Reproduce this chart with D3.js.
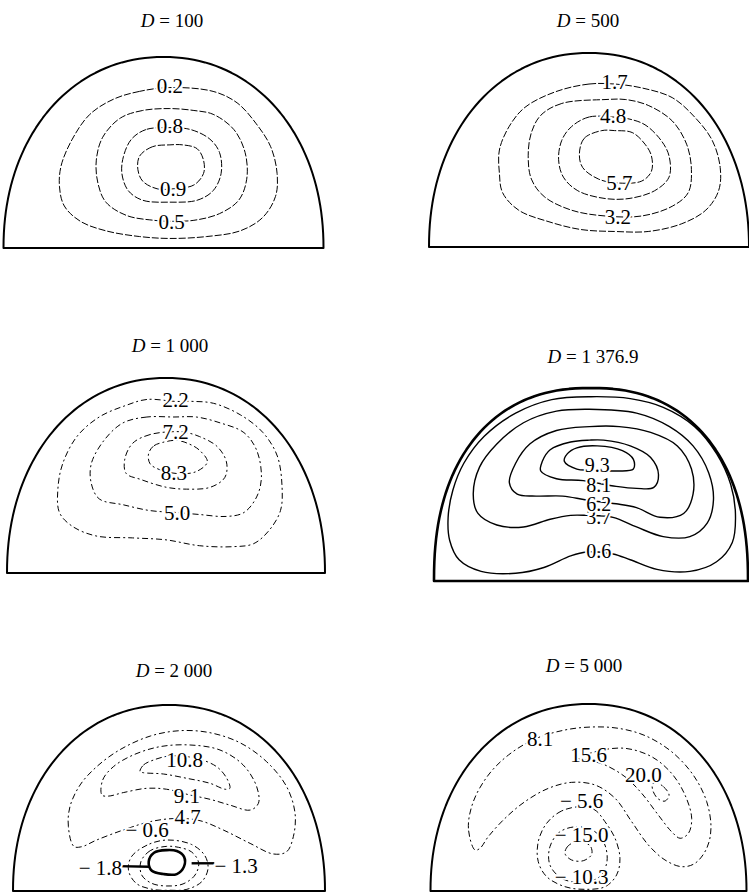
<!DOCTYPE html>
<html>
<head>
<meta charset="utf-8">
<script src="https://cdn.jsdelivr.net/npm/d3@7"></script>
<style>
  body { margin: 0; background: #fff; }
  svg { display: block; }
  text { font-family: "Liberation Serif", "Times New Roman", serif; fill: #000; }
</style>
</head>
<body>
<svg id="chart" width="749" height="892"></svg>
<script>
// D value of each panel
const dValues = ["100", "500", "1 000", "1 376.9", "2 000", "5 000"];

// Isolines. u runs -1..1 across the half-disc, v 0..1 up from the base.
const contours100 = [
  { level: "0.2", at: [0.04, 0.85], pts: [[0.04,0.84],[-0.15,0.82],[-0.31,0.78],[-0.46,0.70],[-0.57,0.57],[-0.64,0.43],[-0.65,0.32],[-0.62,0.22],[-0.52,0.14],[-0.36,0.09],[-0.15,0.06],[0.04,0.05],[0.27,0.06],[0.48,0.09],[0.62,0.16],[0.70,0.27],[0.71,0.39],[0.67,0.53],[0.58,0.65],[0.46,0.76],[0.31,0.82]] },
  { level: "0.5", at: [0.05, 0.14], pts: [[0.04,0.73],[-0.13,0.72],[-0.27,0.68],[-0.38,0.58],[-0.42,0.46],[-0.41,0.34],[-0.36,0.24],[-0.23,0.17],[-0.06,0.145],[0.04,0.14],[0.19,0.145],[0.35,0.18],[0.47,0.25],[0.52,0.36],[0.51,0.50],[0.44,0.62],[0.31,0.70],[0.19,0.72]] },
  { level: "0.8", at: [0.04, 0.64], pts: [[0.03,0.63],[-0.11,0.62],[-0.20,0.57],[-0.25,0.48],[-0.26,0.39],[-0.22,0.30],[-0.13,0.25],[0.04,0.24],[0.21,0.25],[0.31,0.30],[0.36,0.39],[0.35,0.50],[0.29,0.57],[0.17,0.62]] },
  { level: "0.9", at: [0.06, 0.31], pts: [[0.04,0.54],[-0.07,0.53],[-0.15,0.48],[-0.16,0.41],[-0.13,0.35],[-0.04,0.31],[0.06,0.31],[0.19,0.33],[0.25,0.39],[0.25,0.46],[0.21,0.52],[0.12,0.54]] }
];

const contours500 = [
  { level: "1.7", at: [0.16, 0.85], pts: [[0.16,0.84],[0.00,0.84],[-0.21,0.80],[-0.40,0.72],[-0.50,0.62],[-0.56,0.50],[-0.56,0.38],[-0.54,0.28],[-0.44,0.19],[-0.25,0.13],[-0.05,0.09],[0.16,0.08],[0.37,0.08],[0.58,0.12],[0.73,0.19],[0.81,0.29],[0.82,0.41],[0.77,0.55],[0.66,0.67],[0.52,0.77],[0.33,0.82]] },
  { level: "3.2", at: [0.18, 0.155], pts: [[0.10,0.76],[-0.17,0.74],[-0.30,0.68],[-0.36,0.59],[-0.38,0.47],[-0.36,0.35],[-0.28,0.26],[-0.11,0.19],[0.10,0.16],[0.33,0.16],[0.52,0.21],[0.62,0.28],[0.64,0.40],[0.61,0.53],[0.52,0.65],[0.37,0.73],[0.23,0.76]] },
  { level: "4.8", at: [0.15, 0.675], pts: [[0.15,0.67],[0.00,0.67],[-0.11,0.62],[-0.17,0.55],[-0.19,0.45],[-0.16,0.36],[-0.07,0.29],[0.10,0.25],[0.25,0.25],[0.41,0.29],[0.50,0.36],[0.50,0.47],[0.45,0.55],[0.35,0.63],[0.25,0.66]] },
  { level: "5.7", at: [0.19, 0.33], pts: [[0.08,0.60],[-0.03,0.56],[-0.06,0.48],[-0.04,0.41],[0.06,0.35],[0.18,0.33],[0.33,0.34],[0.39,0.39],[0.39,0.47],[0.35,0.53],[0.27,0.59],[0.16,0.60]] }
];

const contours1000 = [
  { level: "2.2", at: [0.06, 0.89], pts: [[0.06,0.88],[-0.12,0.89],[-0.25,0.86],[-0.42,0.80],[-0.56,0.70],[-0.65,0.56],[-0.68,0.43],[-0.67,0.31],[-0.59,0.24],[-0.44,0.19],[-0.21,0.18],[0.00,0.17],[0.21,0.14],[0.42,0.135],[0.55,0.15],[0.65,0.22],[0.72,0.32],[0.73,0.44],[0.70,0.60],[0.61,0.72],[0.47,0.81],[0.30,0.87],[0.17,0.88]] },
  { level: "5.0", at: [0.07, 0.31], pts: [[0.05,0.80],[-0.12,0.80],[-0.27,0.77],[-0.39,0.68],[-0.47,0.56],[-0.47,0.46],[-0.42,0.38],[-0.27,0.35],[-0.10,0.32],[0.07,0.31],[0.21,0.30],[0.38,0.29],[0.49,0.31],[0.57,0.39],[0.60,0.49],[0.57,0.63],[0.49,0.72],[0.34,0.77],[0.19,0.80]] },
  { level: "7.2", at: [0.06, 0.725], pts: [[0.06,0.725],[-0.10,0.71],[-0.21,0.665],[-0.26,0.58],[-0.25,0.51],[-0.16,0.48],[0.00,0.44],[0.13,0.43],[0.28,0.44],[0.37,0.49],[0.38,0.57],[0.32,0.65],[0.21,0.70],[0.13,0.72]] },
  { level: "8.3", at: [0.05, 0.515], pts: [[-0.02,0.67],[-0.08,0.65],[-0.11,0.61],[-0.10,0.56],[-0.04,0.53],[0.07,0.51],[0.19,0.52],[0.26,0.57],[0.21,0.63],[0.15,0.66],[0.07,0.68]] }
];

const contours1377 = [
  { level: "0.6", at: [0.05, 0.157], pts: [[0.00,0.955],[-0.25,0.94],[-0.48,0.87],[-0.68,0.75],[-0.81,0.61],[-0.88,0.47],[-0.91,0.33],[-0.90,0.21],[-0.84,0.11],[-0.70,0.05],[-0.48,0.04],[-0.30,0.07],[-0.13,0.13],[-0.03,0.15],[0.14,0.14],[0.25,0.11],[0.42,0.06],[0.63,0.05],[0.80,0.10],[0.90,0.20],[0.92,0.35],[0.89,0.50],[0.80,0.66],[0.66,0.80],[0.46,0.90],[0.25,0.945]] },
  { level: "3.7", at: [0.05, 0.33], pts: [[-0.01,0.89],[-0.22,0.88],[-0.43,0.82],[-0.60,0.71],[-0.71,0.59],[-0.75,0.45],[-0.72,0.35],[-0.60,0.29],[-0.43,0.28],[-0.26,0.32],[-0.13,0.34],[-0.03,0.34],[0.14,0.33],[0.29,0.28],[0.46,0.23],[0.63,0.23],[0.74,0.30],[0.78,0.42],[0.75,0.56],[0.65,0.70],[0.50,0.80],[0.29,0.87]] },
  { level: "6.2", at: [0.05, 0.40], pts: [[-0.01,0.80],[-0.22,0.78],[-0.39,0.71],[-0.48,0.61],[-0.52,0.51],[-0.47,0.45],[-0.35,0.44],[-0.18,0.44],[-0.03,0.42],[0.16,0.40],[0.29,0.38],[0.44,0.33],[0.59,0.35],[0.65,0.45],[0.64,0.58],[0.55,0.70],[0.38,0.77],[0.18,0.80]] },
  { level: "8.1", at: [0.05, 0.50], pts: [[-0.01,0.73],[-0.13,0.72],[-0.26,0.68],[-0.31,0.62],[-0.32,0.57],[-0.22,0.53],[-0.05,0.52],[0.16,0.49],[0.29,0.48],[0.40,0.485],[0.43,0.55],[0.38,0.64],[0.25,0.70],[0.08,0.73]] },
  { level: "9.3", at: [0.04, 0.60], pts: [[-0.09,0.69],[-0.15,0.66],[-0.17,0.62],[-0.09,0.58],[-0.01,0.575],[0.16,0.57],[0.27,0.58],[0.27,0.63],[0.20,0.675],[0.04,0.70]] }
];

const contours2000 = [
  { level: "4.7", at: [0.12, 0.40], pts: [[-0.61,0.24],[-0.645,0.346],[-0.635,0.453],[-0.57,0.57],[-0.464,0.668],[-0.314,0.76],[-0.12,0.833],[0.07,0.862],[0.263,0.851],[0.455,0.797],[0.626,0.695],[0.754,0.561],[0.808,0.418],[0.797,0.292],[0.754,0.211],[0.669,0.199],[0.52,0.256],[0.348,0.328],[0.199,0.378],[0.049,0.39],[-0.12,0.373],[-0.293,0.328],[-0.464,0.274],[-0.56,0.238]] },
  { level: "9.1", at: [0.115, 0.515], pts: [[-0.43,0.516],[-0.425,0.597],[-0.357,0.668],[-0.23,0.731],[-0.058,0.776],[0.135,0.785],[0.327,0.758],[0.476,0.677],[0.562,0.561],[0.573,0.471],[0.52,0.435],[0.39,0.462],[0.263,0.493],[0.135,0.516],[-0.015,0.547],[-0.143,0.552],[-0.293,0.529],[-0.39,0.51]] },
  { level: "10.8", at: [0.10, 0.708], pts: [[-0.186,0.642],[-0.164,0.677],[-0.10,0.704],[0.006,0.726],[0.177,0.713],[0.306,0.668],[0.37,0.606],[0.39,0.552],[0.36,0.547],[0.263,0.579],[0.113,0.606],[-0.036,0.629],[-0.164,0.636]] },
  { level: "\u2212 0.6", at: [-0.14, 0.328], pts: [[-0.015,0.274],[-0.14,0.247],[-0.24,0.185],[-0.26,0.113],[-0.21,0.041],[-0.10,0.008],[0.006,0.004],[0.11,0.008],[0.21,0.05],[0.25,0.12],[0.23,0.19],[0.145,0.25]] },
  { level: "\u2212 1.3", at: [0.43, 0.136], pts: [[-0.015,0.24],[-0.12,0.217],[-0.18,0.158],[-0.175,0.086],[-0.11,0.041],[-0.015,0.027],[0.09,0.038],[0.167,0.086],[0.19,0.152],[0.145,0.21],[0.06,0.235]] },
  { level: "\u2212 1.8", at: [-0.44, 0.127], pts: [[-0.015,0.22],[-0.096,0.206],[-0.13,0.158],[-0.11,0.109],[-0.036,0.091],[0.05,0.091],[0.096,0.131],[0.096,0.185],[0.05,0.215]] }
];
// leader strokes joining the two small labels to their rings
const leaders2000 = [
  [[-0.33, 0.134], [-0.125, 0.13]],
  [[0.145, 0.149], [0.29, 0.149]]
];

const contours5000 = [
  { level: "8.1", at: [-0.306, 0.816], pts: [[-0.718,0.219],[-0.76,0.335],[-0.729,0.478],[-0.634,0.62],[-0.507,0.727],[-0.339,0.813],[-0.149,0.861],[0.02,0.877],[0.189,0.87],[0.358,0.831],[0.526,0.745],[0.663,0.62],[0.748,0.478],[0.775,0.335],[0.748,0.228],[0.674,0.148],[0.59,0.13],[0.484,0.166],[0.379,0.246],[0.273,0.371],[0.168,0.496],[0.041,0.567],[-0.107,0.581],[-0.254,0.549],[-0.402,0.478],[-0.528,0.389],[-0.634,0.291],[-0.687,0.228]] },
  { level: "15.6", at: [0.0, 0.727], pts: [[-0.064,0.709],[0.062,0.749],[0.231,0.763],[0.40,0.718],[0.526,0.629],[0.611,0.513],[0.653,0.389],[0.632,0.308],[0.58,0.282],[0.526,0.317],[0.442,0.406],[0.337,0.522],[0.231,0.611],[0.104,0.674],[-0.001,0.70]] },
  { level: "20.0", at: [0.347, 0.62], pts: [[0.421,0.581],[0.474,0.558],[0.51,0.513],[0.484,0.481],[0.442,0.492],[0.41,0.531],[0.404,0.567]] },
  { level: "\u2212 5.6", at: [-0.043, 0.481], pts: [[-0.043,0.451],[-0.17,0.428],[-0.265,0.362],[-0.318,0.264],[-0.318,0.157],[-0.265,0.077],[-0.149,0.023],[-0.022,0.009],[0.105,0.023],[0.178,0.086],[0.199,0.175],[0.168,0.282],[0.104,0.371],[0.041,0.433]] },
  { level: "\u2212 10.3", at: [-0.043, 0.077], pts: [[-0.064,0.344],[-0.18,0.317],[-0.244,0.237],[-0.244,0.139],[-0.17,0.068],[-0.054,0.046],[0.062,0.071],[0.115,0.148],[0.104,0.246],[0.041,0.317]] },
  { level: "\u2212 15.0", at: [-0.043, 0.30], pts: [[-0.064,0.264],[-0.128,0.242],[-0.149,0.201],[-0.107,0.166],[-0.033,0.162],[0.02,0.196],[0.01,0.242]] }
];

const panelData = [contours100, contours500, contours1000, contours1377, contours2000, contours5000];

// page layout of each half-disc (pixels); n = superellipse exponent of the rim
const frames = [
  { cx: 163.5, base: 248, rx: 160, ry: 191, n: 2.1, tx: 172, ty: 27,  dash: "7,2",     lw: 1,   rim: 2 },
  { cx: 589,   base: 247, rx: 160, ry: 194, n: 2.1, tx: 588, ty: 27,  dash: "7,2",     lw: 1,   rim: 2 },
  { cx: 166,   base: 573, rx: 159, ry: 195, n: 2.1, tx: 170, ty: 352, dash: "6,3,2,3", lw: 1,   rim: 2 },
  { cx: 591,   base: 581, rx: 157, ry: 193, n: 2.3, tx: 593, ty: 363, dash: null,      lw: 1.4, rim: 2.6 },
  { cx: 169,   base: 891, rx: 156, ry: 186, n: 2.1, tx: 174, ty: 677, dash: "6,3,2,3", lw: 1,   rim: 2 },
  { cx: 588.5, base: 891, rx: 158, ry: 187, n: 2.1, tx: 584, ty: 672, dash: "6,3,2,3", lw: 1,   rim: 2 }
];

const svg = d3.select("#chart");

frames.forEach((f, i) => {
  const x = d3.scaleLinear().domain([-1, 1]).range([f.cx - f.rx, f.cx + f.rx]);
  const y = d3.scaleLinear().domain([0, 1]).range([f.base, f.base - f.ry]);
  const g = svg.append("g").attr("class", "panel");

  const iso = d3.line()
    .x(d => x(d[0]))
    .y(d => y(d[1]))
    .curve(d3.curveCatmullRomClosed.alpha(0.5));
  const straight = d3.line().x(d => x(d[0])).y(d => y(d[1]));

  // title
  const title = g.append("text")
    .attr("x", f.tx)
    .attr("y", f.ty)
    .attr("text-anchor", "middle")
    .attr("font-size", 19);
  title.append("tspan").attr("font-style", "italic").text("D");
  title.append("tspan").text(" = " + dValues[i]);

  // boundary: rounded half-disc + base
  const rimPts = d3.range(0, 181, 2).map(a => {
    const c = Math.cos(a * Math.PI / 180), s = Math.sin(a * Math.PI / 180);
    return [Math.sign(c) * Math.pow(Math.abs(c), 2 / f.n), Math.pow(Math.abs(s), 2 / f.n)];
  });
  g.append("path")
    .attr("d", straight(rimPts) + "Z")
    .attr("fill", "none")
    .attr("stroke", "#000")
    .attr("stroke-width", f.rim)
    .attr("stroke-linejoin", "round");

  const heavy = d => d.level === "\u2212 1.8";

  g.selectAll(".iso")
    .data(panelData[i])
    .join("path")
    .attr("class", "iso")
    .attr("d", d => iso(d.pts))
    .attr("fill", "none")
    .attr("stroke", "#000")
    .attr("stroke-width", d => heavy(d) ? 2.6 : f.lw)
    .attr("stroke-dasharray", d => heavy(d) ? null : f.dash);

  if (i === 4) {
    g.selectAll(".leader")
      .data(leaders2000)
      .join("path")
      .attr("class", "leader")
      .attr("d", straight)
      .attr("stroke", "#000")
      .attr("stroke-width", 2.4);
  }

  g.selectAll(".lbl")
    .data(panelData[i])
    .join("text")
    .attr("class", "lbl")
    .attr("x", d => x(d.at[0]))
    .attr("y", d => y(d.at[1]))
    .attr("dy", "0.35em")
    .attr("text-anchor", "middle")
    .attr("font-size", i === 3 ? 20 : 21)
    .attr("stroke", "#fff")
    .attr("stroke-width", 4)
    .style("paint-order", "stroke")
    .text(d => d.level);
});
</script>
</body>
</html>
